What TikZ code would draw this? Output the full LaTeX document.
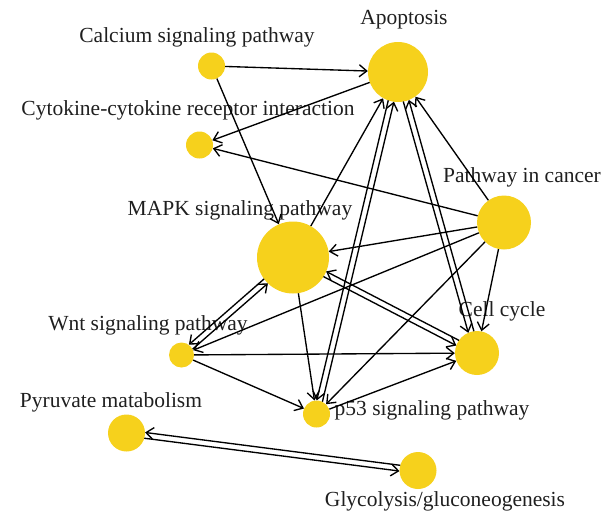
\documentclass[tikz,border=0pt]{standalone}
\usepackage{fontspec}
\setmainfont{Liberation Serif}
\usetikzlibrary{arrows.meta,calc}
\definecolor{nodeyellow}{RGB}{246,209,28}
\newcommand\pairedge[4]{\draw[edge,shorten <=#3,shorten >=#4] ($(#1)!2.9pt!-90:(#2)$) -- ($(#2)!2.9pt!90:(#1)$);}
\begin{document}
\begin{tikzpicture}[x=1pt,y=-1pt,
  dot/.style={circle,fill=nodeyellow,draw=none,inner sep=0pt,minimum size=#1},
  lbl/.style={font=\fontsize{21.5}{24}\selectfont,text=black!88,inner sep=0pt},
  edge/.style={line width=1.35pt,-{Straight Barb[length=7.5pt,width=12pt]}}]
\useasboundingbox (0,0) rectangle (615,528);
% nodes
\node[dot=27pt] (calcium) at (211.5,66) {};
\node[dot=60pt] (apoptosis) at (398,72) {};
\node[dot=27pt] (cytokine) at (199.5,145) {};
\node[dot=54pt] (cancer) at (504,222.5) {};
\node[dot=72pt] (mapk) at (293,257.5) {};
\node[dot=44pt] (cellcycle) at (477,353) {};
\node[dot=25pt] (wnt) at (181.5,355) {};
\node[dot=27pt] (p53) at (316.5,414) {};
\node[dot=37pt] (pyruvate) at (126.5,433) {};
\node[dot=37pt] (glycolysis) at (418,470.5) {};
% labels
\node[lbl] (lcalcium) at (197,37) {Calcium signaling pathway};
\node[lbl] (lapoptosis) at (404,20) {Apoptosis};
\node[lbl] (lcytokine) at (188,110) {Cytokine-cytokine receptor interaction};
\node[lbl] (lcancer) at (522,177) {Pathway in cancer};
\node[lbl] (lmapk) at (240,210) {MAPK signaling pathway};
\node[lbl] (lwnt) at (148,325) {Wnt signaling pathway};
\node[lbl] (lcell) at (502,311) {Cell cycle};
\node[lbl] (lp53) at (432,410) {p53 signaling pathway};
\node[lbl] (lpyruvate) at (111,402) {Pyruvate matabolism};
\node[lbl] (lglyco) at (445,501) {Glycolysis/gluconeogenesis};
% single edges
\draw[edge] (calcium) -- (apoptosis);
\draw[edge] (calcium) -- (mapk);
\draw[edge] (apoptosis) -- (cytokine);
\draw[edge] (cancer) -- (cytokine);
\draw[edge] (cancer) -- (apoptosis);
\draw[edge] (mapk) -- (apoptosis);
\draw[edge] (cancer) -- (mapk);
\draw[edge] (cancer) -- (wnt);
\draw[edge] (cancer) -- (cellcycle);
\draw[edge] (cancer) -- (p53);
\draw[edge] (mapk) -- (p53);
\draw[edge] (wnt) -- (cellcycle);
\draw[edge] (wnt) -- (p53);
\draw[edge] (p53) -- (cellcycle);
% paired edges
\pairedge{apoptosis}{p53}{29.8pt}{13.3pt}
\pairedge{p53}{apoptosis}{13.3pt}{29.8pt}
\pairedge{apoptosis}{cellcycle}{29.8pt}{21.8pt}
\pairedge{cellcycle}{apoptosis}{21.8pt}{29.8pt}
\pairedge{mapk}{cellcycle}{35.8pt}{21.8pt}
\pairedge{cellcycle}{mapk}{21.8pt}{35.8pt}
\pairedge{mapk}{wnt}{35.8pt}{12.3pt}
\pairedge{wnt}{mapk}{12.3pt}{35.8pt}
\pairedge{pyruvate}{glycolysis}{18.3pt}{18.3pt}
\pairedge{glycolysis}{pyruvate}{18.3pt}{18.3pt}
\end{tikzpicture}
\end{document}
